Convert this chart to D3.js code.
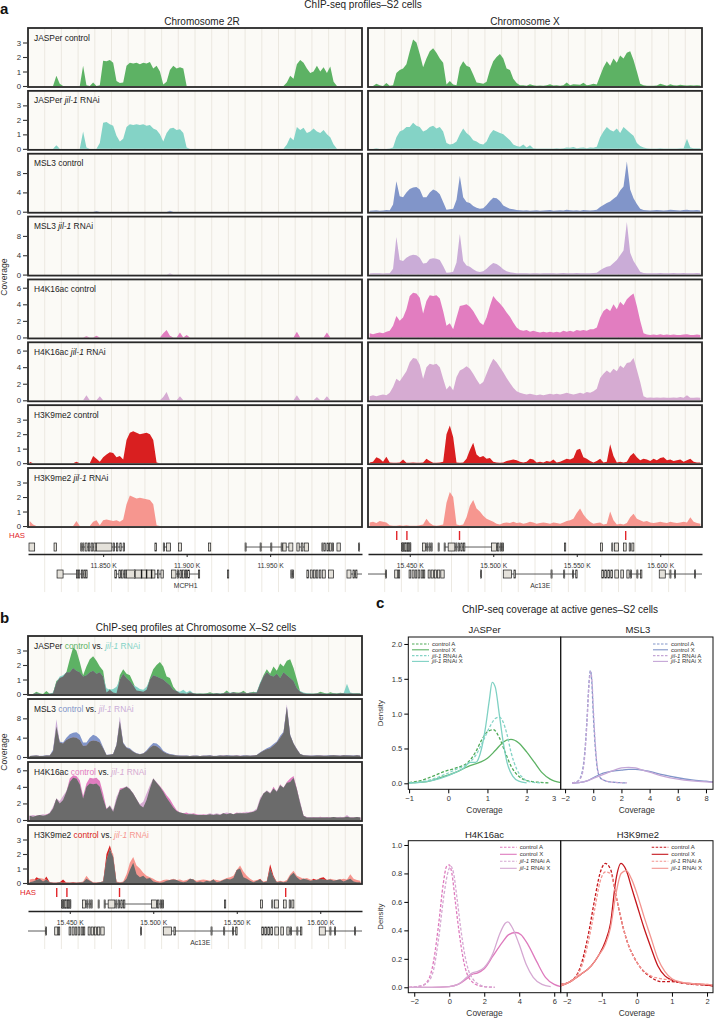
<!DOCTYPE html>
<html><head><meta charset="utf-8">
<script src="https://cdn.jsdelivr.net/npm/d3@7"></script>
<style>body{margin:0;background:#fff}svg{display:block}text{font-family:"Liberation Sans",Arial,Helvetica,sans-serif}</style>
</head><body><script>
// ---------------- DATA: coverage profiles (100 bins per region) ----------------
const jasperCtrl2R=[0,0,0,0,0,0,0,0,0.7,0.15, 0,0,0,0,0,0,1.4,0.05,0,0.25, 0,0.05,1.75,1.7,1.8,1.6,0.35,0.2,0.25,1.4, 1.6,1.55,1.6,1.5,1.6,1.55,1.65,1.2,1.4,1.0, 0.1,0.3,1.1,1.4,1.2,1.3,1.2,0,0,0, 0,0,0,0,0,0,0,0,0,0, 0,0,0,0,0,0,0,0,0,0, 0,0,0,0,0,0,0,0.25,0.7,0.5, 1.5,1.8,1.6,1.2,0.9,1.0,1.4,1.0,1.3,0.9, 1.35,0.3,0,0,0,0,0,0,0,0];
const jasperRnai2R=[0,0,0,0,0,0,0,0,0.25,0, 0,0,0,0,0,0,1.2,0.1,0,0, 0,0.4,1.8,1.85,1.7,1.6,0.9,0.5,0.7,1.5, 1.7,1.65,1.7,1.65,1.7,1.6,1.65,1.4,1.3,1.0, 0.5,1.1,1.4,1.45,1.3,1.35,1.1,0.1,0,0, 0,0,0,0,0,0,0,0,0,0, 0,0,0,0,0,0,0,0,0,0, 0,0,0,0,0,0,0,0.3,0.8,0.6, 1.5,1.3,1.45,1.1,1.2,1.4,1.2,1.1,1.3,1.0, 0.8,0.3,0,0,0,0,0,0,0,0];
const msl3Ctrl2R=[0,0,0,0,0,0,0,0,0,0, 0,0,0,0,0,0,0,0,0,0, 0.15,0,0,0,0,0,0,0,0,0, 0,0,0,0,0,0,0,0,0,0, 0,0,0.2,0,0,0,0,0,0,0, 0,0,0,0,0,0,0,0,0,0, 0,0,0,0,0,0,0,0,0,0, 0,0,0,0,0,0,0,0,0,0, 0,0,0,0,0,0,0,0,0,0, 0,0,0,0,0,0,0,0,0,0];
const msl3Rnai2R=[0,0,0,0,0,0,0,0,0,0, 0,0,0,0,0,0,0,0,0,0, 0,0,0,0,0,0,0,0,0,0, 0,0,0,0,0,0,0,0,0,0, 0,0,0.2,0,0,0,0,0,0,0, 0,0,0,0,0,0,0,0,0,0, 0,0,0,0,0,0,0,0,0,0, 0,0,0,0,0,0,0,0,0,0, 0,0,0,0,0,0,0,0,0,0, 0,0,0,0,0,0,0,0,0,0];
const h4Ctrl2R=[0,0,0,0,0,0,0,0,0,0, 0,0,0,0,0,0,0,0.15,0,0, 0.2,0,0,0,0,0,0,0,0,0, 0,0,0,0,0,0,0,0,0,0, 0.5,0.9,0.2,0,0,0.6,0,0.3,0,0, 0,0,0,0,0,0,0,0,0,0, 0,0,0,0,0,0,0,0,0,0, 0,0,0,0,0,0,0,0,0,0, 0.7,0,0,0,0,0,0,0,0,0.6, 0,0,0,0,0,0,0,0,0,0];
const h4Rnai2R=[0,0,0,0,0,0,0,0,0,0, 0,0,0,0,0,0,0,0.6,0,0, 0,0.5,0,0,0,0,0,0,0,0, 0,0,0,0,0,0,0,0,0,0, 0.4,1.0,0,0,0,0.5,0,0,0,0, 0,0,0,0,0,0,0,0,0,0, 0,0,0,0,0,0,0,0,0,0, 0,0,0,0,0,0,0,0,0,0, 0.6,0,0,0,0,0,0.4,0,0,0.5, 0,0,0,0,0,0,0,0,0,0];
const h3Ctrl2R=[0.1,0,0,0,0,0,0,0,0,0, 0,0,0,0,0.1,0,0,0,0,0.5, 0.3,0.1,0.4,0.6,0.75,0.7,0.4,0.5,0.25,1.6, 2.1,2.2,2.1,2.0,2.05,2.1,2.0,1.6,0.05,0, 0,0,0,0,0,0,0,0,0,0, 0,0,0,0,0,0,0,0,0,0, 0,0,0,0,0,0,0,0,0,0, 0,0,0,0,0,0,0,0,0,0, 0,0,0,0,0,0,0,0,0,0, 0,0,0,0,0,0,0,0,0,0];
const h3Rnai2R=[0.35,0.1,0,0,0,0,0,0,0,0, 0,0,0,0,0.35,0,0,0,0,0.3, 0.4,0.05,0.4,0.45,0.4,0.35,0.4,0.3,0.45,1.5, 2.1,2.0,1.9,1.95,1.9,1.85,1.8,1.5,0.05,0, 0,0,0,0,0,0,0,0,0,0, 0,0,0,0,0,0,0,0,0,0, 0,0,0,0,0,0,0,0,0,0, 0,0,0,0,0,0,0,0,0,0, 0,0,0,0,0,0,0,0,0,0, 0,0,0,0,0,0,0,0,0,0];

const jasperCtrlX=[0,0,0.15,0.05,0,0.2,0.02,0.05,0.9,1.1, 1.2,1.5,2.4,3.2,3.0,2.2,1.3,1.9,2.4,2.6, 2.3,1.9,1.6,0.1,0.35,0.1,0.05,1.3,1.7,1.4, 1.3,0.8,0.25,0.2,0.15,0.3,1.1,1.7,2.0,2.2, 1.9,1.2,1.1,0.5,0.2,0.05,0.05,0.02,0.12,0.05, 0.02,0.03,0.02,0.05,0.12,0.03,0.05,0.02,0.06,0.25, 0.05,0.12,0.1,0.08,0.22,0.05,0.08,0.15,0.1,0.7, 1.3,1.7,1.4,1.9,1.6,2.1,1.9,2.3,2.4,1.8, 1.0,0.15,0.05,0.02,0.02,0.02,0.03,0.15,0.08,0.02, 0.12,0.05,0.03,0.08,0.05,0.03,0.06,0.04,0.05,0.03];
const jasperRnaiX=[0,0,0.05,0,0,0,0.02,0.1,0.8,1.2, 1.3,1.5,1.5,1.8,1.6,1.5,1.2,1.3,1.5,1.6, 1.4,1.5,1.2,0.4,0.3,0.35,0.5,1.0,1.4,1.1, 0.9,0.6,0.5,0.35,0.3,0.5,1.0,1.3,1.2,1.1, 1.0,0.8,0.6,0.3,0.2,0.15,0.3,0.1,0.25,0.05, 0.02,0.02,0.02,0.02,0.03,0.02,0.05,0.03,0.05,0.1, 0.08,0.12,0.05,0.08,0.1,0.05,0.1,0.08,0.15,0.8, 1.2,1.5,1.3,1.2,1.4,1.1,1.5,1.3,1.1,0.9, 0.4,0.2,0.1,0.05,0.03,0.02,0.03,0.05,0.02,0.03, 0.02,0.03,0.02,0.05,0.05,0.7,0.1,0.05,0.04,0.05];
const msl3CtrlX=[0.2,0.25,0.3,0.2,0.25,0.35,0.3,1.5,6.3,3.2, 3.0,4.0,4.7,5.0,5.1,4.6,3.0,3.0,4.0,4.6, 4.3,3.6,2.0,0.4,0.5,0.6,2.5,7.4,3.0,2.0, 1.8,1.2,0.8,0.6,0.7,1.4,2.2,2.9,2.8,2.2, 1.3,0.9,0.6,0.5,0.35,0.3,0.25,0.3,0.2,0.25, 0.3,0.2,0.25,0.3,0.35,0.2,0.25,0.3,0.25,0.4, 0.3,0.25,0.3,0.2,0.35,0.3,0.25,0.3,0.4,1.0, 1.4,1.8,2.1,2.7,3.2,4.4,5.2,10.4,4.6,2.8, 1.6,0.6,0.35,0.3,0.25,0.3,0.35,0.3,0.25,0.3, 0.4,0.35,0.3,0.25,0.35,0.4,0.3,0.3,0.35,0.25];
const msl3RnaiX=[0.2,0.25,0.3,0.25,0.2,0.3,0.3,1.2,7.8,3.0, 2.8,3.5,3.9,4.1,4.0,3.5,2.3,2.4,3.2,3.4, 3.3,3.0,1.8,0.4,0.45,0.6,2.5,8.4,2.8,1.9, 1.6,1.1,0.7,0.55,0.7,1.2,1.9,2.4,2.2,1.7, 1.1,0.7,0.5,0.4,0.3,0.25,0.3,0.25,0.2,0.3, 0.25,0.2,0.3,0.25,0.3,0.25,0.2,0.3,0.35,0.3, 0.25,0.3,0.35,0.3,0.25,0.3,0.25,0.35,0.4,0.9, 1.3,1.6,1.8,2.4,3.0,4.0,5.0,10.9,4.5,2.8, 1.7,0.6,0.35,0.3,0.3,0.25,0.3,0.35,0.3,0.25, 0.3,0.35,0.3,0.3,0.35,0.3,0.3,0.25,0.35,0.3];
const h4CtrlX=[0.5,0.4,0.5,0.6,0.5,0.7,0.8,1.4,2.6,2.0, 2.4,3.4,5.0,5.4,5.3,4.8,2.9,4.4,5.1,5.0, 5.1,4.7,3.2,1.4,1.7,1.0,2.4,3.8,3.9,4.0, 3.7,3.2,2.5,1.8,1.5,2.4,3.8,5.0,4.5,4.1, 3.6,3.0,2.5,1.8,1.2,0.9,0.8,0.9,0.7,0.8, 0.7,0.6,0.7,0.6,0.7,0.6,0.7,0.6,0.8,0.7, 0.8,0.7,0.9,0.8,0.9,0.8,1.0,1.0,1.2,2.4, 3.2,3.5,3.2,4.0,3.4,4.3,3.9,4.6,5.0,5.3, 3.8,2.0,0.5,0.35,0.3,0.35,0.3,0.4,0.3,0.35, 0.3,0.35,0.3,0.3,0.35,0.4,0.3,0.3,0.35,0.3];
const h4RnaiX=[0.5,0.6,0.5,0.6,0.7,0.6,0.9,1.6,2.6,2.3, 2.9,3.5,4.6,5.1,5.0,4.3,2.6,4.0,4.4,4.3, 4.4,4.0,2.6,1.3,1.8,1.2,2.8,3.6,3.8,4.1, 3.8,3.2,2.5,1.9,2.2,3.2,4.2,5.0,4.6,4.0, 3.4,2.7,2.1,1.5,1.1,0.9,0.8,0.7,0.8,0.7, 0.6,0.7,0.6,0.7,0.8,0.7,0.8,0.7,0.8,0.9, 0.8,0.7,0.8,0.9,0.8,1.0,0.9,1.1,1.4,2.7, 3.2,3.6,3.3,3.8,3.5,4.2,3.9,4.5,4.6,5.1, 3.7,2.2,0.5,0.3,0.35,0.3,0.35,0.3,0.35,0.3, 0.3,0.35,0.3,0.4,0.3,0.6,0.3,0.3,0.35,0.3];
const h3CtrlX=[0.05,0.1,0.4,0.3,0.1,0.45,0.05,0.02,0.02,0.05, 0.25,0.02,0.02,0.05,0.02,0.03,0.05,0.3,0.15,0.02, 0.02,0.05,0.1,2.0,2.6,1.8,0.05,0.02,0.05,0.3, 0.9,1.4,0.6,0.4,0.5,0.3,0.35,0.1,0.05,0.02, 0.05,0.15,0.2,0.25,0.2,0.1,0.05,0.1,0.3,0.25, 0.05,0.1,0.05,0.15,0.1,0.25,0.05,0.1,0.2,0.3, 0.25,0.35,0.9,1.0,0.4,0.3,0.15,0.05,0.15,0.3, 0.05,0.1,1.3,0.5,0.05,0.1,0.05,0.1,0.5,0.7, 0.4,0.2,0.3,0.25,0.15,0.3,0.2,0.35,0.4,0.2, 0.25,0.15,0.2,0.25,0.1,0.2,0.3,0.1,0.05,0.05];
const h3RnaiX=[0.25,0.3,0.2,0.35,0.3,0.25,0.05,0.02,0.02,0.05, 0.02,0.05,0.02,0.02,0.02,0.05,0.1,0.5,0.2,0.05, 0.02,0.05,0.1,1.6,2.35,2.0,0.1,0.05,0.1,0.6, 1.4,1.8,1.2,1.0,0.7,0.5,0.4,0.3,0.15,0.1, 0.2,0.25,0.2,0.3,0.2,0.25,0.15,0.2,0.3,0.25, 0.15,0.2,0.25,0.2,0.15,0.25,0.2,0.15,0.25,0.35, 0.4,0.5,0.9,1.2,0.8,0.5,0.3,0.15,0.2,0.25, 0.1,0.15,1.0,0.4,0.1,0.15,0.1,0.2,0.6,0.85, 0.5,0.4,0.3,0.35,0.25,0.2,0.25,0.3,0.25,0.2, 0.3,0.25,0.2,0.25,0.3,0.25,0.6,0.3,0.2,0.15];

const marks=["JASPer","MSL3","H4K16ac","H3K9me2"];
const trackMax=[4,12,7,4];
const trackTicks=[[0,1,2,3],[0,4,8],[0,2,4,6],[0,1,2,3]];
const ctrlColors=["#5db264","#8195c9","#e27dc0","#d91f20"];
const rnaiColors=["#84d3c6","#caacd7","#d6abd2","#f6968f"];
const data2R=[[jasperCtrl2R,jasperRnai2R],[msl3Ctrl2R,msl3Rnai2R],[h4Ctrl2R,h4Rnai2R],[h3Ctrl2R,h3Rnai2R]];
const dataX=[[jasperCtrlX,jasperRnaiX],[msl3CtrlX,msl3RnaiX],[h4CtrlX,h4RnaiX],[h3CtrlX,h3RnaiX]];

// genomic regions (kb) and annotation
const region2R=[11805,12005], regionX=[15425,15625];
const axisTicks2R=[11850,11900,11950], axisTicksX=[15450,15500,15550,15600];
const hasSitesX=[15442.2,15448.3,15479.8,15579.3];
const genes2R=[
 {row:1,exons:[[11805.6,11809.0]]},
 {row:1,exons:[[11820.6,11822.0]]},
 {row:1,from:11836.6,to:11862.8,exons:[[11836.6,11837.2],[11837.8,11838.4],[11839.2,11840.4],[11841.2,11842.0],[11842.8,11843.8],[11844.4,11845.6],[11846.0,11855.2],[11856.0,11856.8],[11858.0,11858.8],[11860.0,11860.8],[11862.0,11862.8]]},
 {row:1,exons:[[11881,11882]]},
 {row:1,from:11886,to:11890.4,exons:[[11886,11886.8],[11888,11890.4]]},
 {row:1,exons:[[11895.2,11897]]},
 {row:1,exons:[[11913,11914.4]]},
 {row:1,from:11935,to:11963.6,exons:[[11935,11935.6],[11944,11944.6],[11950.4,11951],[11956.6,11957.2],[11957.6,11959.6],[11961.2,11963.6]]},
 {row:1,from:11966,to:11973,exons:[[11966,11967.4],[11968.6,11969.6],[11970.4,11973]]},
 {row:1,exons:[[11981,11981.6],[11982.2,11983],[11984,11985],[11985.6,11986.6],[11987.2,11988]]},
 {row:1,exons:[[11990,11992]]},
 {row:1,exons:[[12003,12003.6]]},
 {row:2,from:11822.4,to:11840.4,exons:[[11822.4,11826],[11834,11834.8],[11835.2,11836],[11837,11837.8],[11838.4,11839.2],[11839.6,11840.4]]},
 {row:2,from:11857,to:11886,exons:[[11857,11858],[11859.4,11860.4],[11861,11862],[11862.8,11863.6],[11864,11881],[11868.8,11869.2],[11872.8,11873.2],[11875.8,11876.2],[11878.8,11879.2],[11882.6,11883.4],[11884.6,11886]]},
 {row:2,from:11891,to:11907.8,name:"MCPH1",exons:[[11891,11893.6],[11894.6,11895.2],[11896,11897],[11897.6,11898.6],[11899.2,11900],[11900.6,11901.6],[11907,11907.8]]},
 {row:2,exons:[[11924.4,11925.2]]},
 {row:2,from:11962.4,to:11964,exons:[[11962.4,11963],[11963.4,11964]]},
 {row:2,exons:[[11972,11973],[11974,11975.2],[11976,11977],[11977.6,11978.6],[11979.4,11980.4],[11981.2,11983]]},
 {row:2,exons:[[11985,11988]]},
 {row:2,from:11996,to:12010,exons:[[11996,11998.4],[11999.6,12000.4],[12001.2,12002]]}
];
const genesX=[
 {row:1,exons:[[15445,15450.6],[15445.6,15446.2],[15447,15447.8],[15448.6,15449.4],[15450,15450.6]]},
 {row:1,from:15457.6,to:15463.4,exons:[[15457.6,15459.4],[15460.2,15460.8],[15461.6,15462.2],[15462.8,15463.4]]},
 {row:1,exons:[[15467,15467.6]]},
 {row:1,from:15470.6,to:15506.2,exons:[[15470.6,15471.2],[15473,15477],[15477.6,15478.2],[15479,15479.8],[15480.6,15481.4],[15482.2,15483],[15499,15502],[15502.6,15503.4],[15504.2,15505],[15505.4,15506.2]]},
 {row:1,exons:[[15542.6,15543.4]]},
 {row:1,exons:[[15564.2,15565.4]]},
 {row:1,exons:[[15571,15571.6],[15572.6,15575]]},
 {row:1,exons:[[15578,15579.6]]},
 {row:1,exons:[[15581.4,15582.2],[15583,15584.2]]},
 {row:2,from:15420,to:15436,exons:[[15435.4,15436]]},
 {row:2,exons:[[15441,15442.8],[15443.2,15444]]},
 {row:2,exons:[[15449.6,15450.6],[15451.4,15452.6],[15453.2,15454.2],[15455,15456],[15456.8,15457.8],[15458.2,15459]]},
 {row:2,exons:[[15461,15462.2],[15462.8,15464.2],[15464.8,15466],[15466.6,15468],[15468.6,15470.6]]},
 {row:2,exons:[[15492.4,15493]]},
 {row:2,from:15506,to:15550.2,name:"Ac13E",exons:[[15506,15511],[15512.4,15513.2],[15534.6,15535.2],[15542.2,15542.8],[15547.4,15548],[15549.4,15550.2]]},
 {row:2,exons:[[15565,15566],[15566.8,15567.8],[15568.6,15569.6],[15570.4,15571.4],[15572.8,15575]]},
 {row:2,exons:[[15576.4,15578]]},
 {row:2,from:15580,to:15589,exons:[[15580,15581.4],[15582.2,15582.8],[15586,15586.6],[15588.2,15589]]},
 {row:2,from:15599.4,to:15630,exons:[[15599.4,15603],[15605.8,15606.4],[15608.6,15609.2],[15620.6,15621.2]]}
];

// ---------------- DATA: density curves (panel c) ----------------
const densJasper=[
 {lab:"control A",dash:true,color:"#4fa957",x:[-1,-0.7,-0.4,-0.1,0.2,0.5,0.7,0.85,1.0,1.15,1.3,1.45,1.6,1.8,2.0,2.3,2.6],y:[0.01,0.04,0.1,0.17,0.22,0.3,0.45,0.62,0.74,0.77,0.66,0.45,0.25,0.1,0.04,0.015,0.005]},
 {lab:"control X",dash:false,color:"#5db264",x:[-1,-0.6,-0.2,0.2,0.5,0.8,1.0,1.2,1.4,1.6,1.8,2.0,2.2,2.4,2.6,2.87],y:[0.005,0.02,0.08,0.16,0.24,0.3,0.36,0.47,0.59,0.63,0.58,0.45,0.3,0.15,0.06,0.01]},
 {lab:"RNAi A",dash:true,color:"#84d3c6",x:[-1,-0.6,-0.2,0.2,0.5,0.7,0.9,1.05,1.2,1.3,1.4,1.5,1.6,1.75,1.9,2.1,2.4],y:[0.005,0.03,0.1,0.2,0.28,0.4,0.62,0.8,0.93,0.95,0.88,0.7,0.45,0.2,0.08,0.02,0.005]},
 {lab:"RNAi X",dash:false,color:"#7fd1c3",x:[-1,-0.6,-0.2,0.2,0.4,0.55,0.7,0.85,0.95,1.05,1.12,1.2,1.3,1.4,1.5,1.65,1.8,2.0],y:[0.003,0.02,0.07,0.16,0.22,0.3,0.3,0.5,0.8,1.2,1.45,1.38,1.0,0.6,0.3,0.1,0.03,0.005]}
];
const densMsl3=[
 {lab:"control A",dash:true,color:"#8195c9",x:[-1.5,-1.1,-0.8,-0.6,-0.45,-0.3,-0.2,-0.1,0.0,0.15,0.3,0.5,0.8,1.2,1.8,2.4],y:[0.005,0.03,0.15,0.45,0.9,1.45,1.62,1.45,1.0,0.5,0.2,0.08,0.04,0.02,0.01,0.005]},
 {lab:"control X",dash:false,color:"#8195c9",x:[-1.5,-1,-0.5,0,0.5,1,1.5,2,2.5,3,3.5,4,5,6,7,8,8.5],y:[0.0,0.01,0.03,0.08,0.13,0.16,0.18,0.19,0.2,0.2,0.19,0.17,0.12,0.08,0.05,0.03,0.02]},
 {lab:"RNAi A",dash:true,color:"#c4a6d6",x:[-1.5,-1.1,-0.8,-0.6,-0.45,-0.3,-0.2,-0.1,0.0,0.15,0.3,0.5,0.8,1.2,1.8,2.4],y:[0.005,0.03,0.12,0.4,0.85,1.4,1.6,1.5,1.1,0.55,0.22,0.08,0.04,0.02,0.01,0.005]},
 {lab:"RNAi X",dash:false,color:"#c4a6d6",x:[-1.5,-1,-0.5,0,0.5,1,1.5,2,2.5,3,3.5,4,5,6,7,8,8.5],y:[0.0,0.01,0.03,0.07,0.11,0.15,0.19,0.22,0.23,0.22,0.19,0.16,0.1,0.06,0.035,0.02,0.015]}
];
const densH4=[
 {lab:"control A",dash:true,color:"#de7abd",x:[-2.3,-1.6,-1.2,-0.9,-0.6,-0.35,-0.15,0.0,0.15,0.35,0.55,0.8,1.0,1.3,1.6,2.0,2.6],y:[0.0,0.01,0.05,0.18,0.45,0.72,0.85,0.86,0.8,0.6,0.4,0.2,0.1,0.04,0.015,0.005,0.0]},
 {lab:"control X",dash:false,color:"#de7abd",x:[-2.3,-1,0,0.5,1.0,1.3,1.6,2.0,2.5,3.0,3.4,3.8,4.1,4.5,5.0,5.5,6.0,6.37],y:[0,0,0.005,0.02,0.06,0.09,0.1,0.13,0.22,0.31,0.37,0.385,0.37,0.3,0.18,0.07,0.02,0.005]},
 {lab:"RNAi A",dash:true,color:"#d5a8d2",x:[-2.3,-1.6,-1.2,-0.9,-0.6,-0.3,-0.05,0.1,0.25,0.45,0.65,0.9,1.1,1.4,1.7,2.0,2.6],y:[0,0.01,0.04,0.12,0.35,0.65,0.82,0.85,0.8,0.62,0.42,0.22,0.12,0.05,0.02,0.005,0]},
 {lab:"RNAi X",dash:false,color:"#d5a8d2",x:[-2.3,-1,0,0.5,1.0,1.3,1.6,2.0,2.5,2.9,3.2,3.35,3.6,4.0,4.4,4.8,5.3,5.8],y:[0,0,0.005,0.02,0.07,0.1,0.11,0.14,0.24,0.38,0.45,0.46,0.42,0.3,0.16,0.07,0.02,0.005]}
];
const densH3=[
 {lab:"control A",dash:true,color:"#c4161c",x:[-2.17,-1.9,-1.6,-1.4,-1.2,-1.05,-0.9,-0.75,-0.6,-0.45,-0.3,-0.1,0.1,0.4,0.7,1.0,1.3,1.6,2.0,2.17],y:[0.02,0.04,0.15,0.35,0.62,0.8,0.87,0.83,0.65,0.48,0.34,0.22,0.14,0.07,0.04,0.04,0.03,0.02,0.015,0.01]},
 {lab:"control X",dash:false,color:"#c4161c",x:[-2.17,-1.9,-1.6,-1.3,-1.1,-0.9,-0.75,-0.6,-0.45,-0.3,-0.15,0,0.2,0.4,0.6,0.8,1.0,1.3,1.6,2.0,2.17],y:[0.01,0.04,0.09,0.15,0.22,0.32,0.45,0.75,0.87,0.82,0.7,0.58,0.42,0.28,0.15,0.08,0.05,0.03,0.025,0.015,0.01]},
 {lab:"RNAi A",dash:true,color:"#f39590",x:[-2.17,-1.9,-1.6,-1.4,-1.2,-1.05,-0.9,-0.75,-0.6,-0.45,-0.3,-0.1,0.1,0.4,0.7,1.0,1.3,1.6,2.0,2.17],y:[0.02,0.04,0.13,0.3,0.55,0.74,0.81,0.8,0.65,0.48,0.34,0.22,0.14,0.08,0.06,0.05,0.03,0.025,0.02,0.015]},
 {lab:"RNAi X",dash:false,color:"#f39590",x:[-2.17,-1.9,-1.6,-1.3,-1.1,-0.9,-0.75,-0.6,-0.45,-0.3,-0.15,0,0.2,0.4,0.6,0.8,1.0,1.3,1.6,2.0,2.17],y:[0.01,0.04,0.09,0.15,0.22,0.3,0.42,0.65,0.8,0.82,0.76,0.66,0.5,0.35,0.2,0.11,0.06,0.035,0.025,0.02,0.015]}
];
const legendLabels=[[{t:"control A"}],[{t:"control X"}],[{t:"jil-1",i:1},{t:" RNAi A"}],[{t:"jil-1",i:1},{t:" RNAi X"}]];

// ---------------- DRAWING ----------------
const W=714,H=1019,NB=100;
const BG="#fbfaf6",GRID="#e7e3db",FRAME="#282828",HASC="#e2262b";
const FAM="Liberation Sans,Arial,sans-serif";
const fmtInt=d3.format("d"), fmt1=d3.format(".1f");
const svg=d3.select("body").append("svg").attr("width",W).attr("height",H);
let clipN=0;
function clip(x,y,w,h){const id="c"+(clipN++);svg.append("clipPath").attr("id",id).append("rect").attr("x",x).attr("y",y).attr("width",w).attr("height",h);return `url(#${id})`;}
function txt(g,x,y,s,size,opts={}){const t=g.append("text").attr("x",x).attr("y",y).attr("font-size",size).attr("fill",opts.fill||"#222").attr("text-anchor",opts.anchor||"start");if(opts.weight)t.attr("font-weight",opts.weight);if(opts.rot)t.attr("transform",`rotate(-90,${x},${y})`);if(typeof s==="string")t.text(s);else s.forEach(p=>{const ts=t.append("tspan").text(p.t);if(p.i)ts.attr("font-style","italic");if(p.c)ts.attr("fill",p.c);});return t;}

function drawTrack(o){
  const g=svg.append("g");
  const w=o.x1-o.x0;
  g.append("rect").attr("x",o.x0).attr("y",o.yTop).attr("width",w).attr("height",o.h).attr("fill",BG);
  const gx=d3.scaleLinear().domain([0,20]).range([o.x0,o.x1]);
  g.selectAll(null).data(d3.range(1,20)).join("line").attr("x1",d=>gx(d)).attr("x2",d=>gx(d)).attr("y1",o.yTop).attr("y2",o.yTop+o.h).attr("stroke",GRID).attr("stroke-width",0.8);
  const xs=d3.scaleLinear().domain([0,NB]).range([o.x0,o.x1]);
  const ys=d3.scaleLinear().domain([0,o.ymax]).range([o.yTop+o.h-1,o.yTop]);
  const area=d3.area().x((d,i)=>xs(i+0.5)).y0(ys(0)).y1(d=>ys(d));
  const cp=clip(o.x0,o.yTop,w,o.h);
  o.layers.forEach(L=>g.append("path").attr("clip-path",cp).attr("d",area(L.values)).attr("fill",L.color));
  g.append("rect").attr("x",o.x0).attr("y",o.yTop).attr("width",w).attr("height",o.h).attr("fill","none").attr("stroke",FRAME).attr("stroke-width",1.8);
  if(o.axis){
    const ag=g.append("g").attr("transform",`translate(${o.x0-1},0)`).call(d3.axisLeft(ys).tickValues(o.ticks).tickSize(4).tickPadding(2).tickSizeOuter(0).tickFormat(fmtInt));
    ag.select(".domain").remove();
    ag.selectAll("line").attr("stroke","#333").attr("stroke-width",1.1);
    ag.selectAll("text").attr("font-size",7.8).attr("fill","#333").attr("font-family",FAM);
  }
  if(o.label) txt(g,o.x0+6,o.yTop+12.5,o.label,8.4);
}

function geneArea(x0,x1,yb,region,genes,ticks,has,hasLabelX){
  const g=svg.append("g");
  const xs=d3.scaleLinear().domain(region).range([x0,x1]);
  const gx=d3.scaleLinear().domain([0,20]).range([x0,x1]);
  g.selectAll(null).data(d3.range(1,20)).join("line").attr("x1",d=>gx(d)).attr("x2",d=>gx(d)).attr("y1",yb+1).attr("y2",yb+65).attr("stroke",GRID).attr("stroke-width",0.8);
  const cp=clip(x0,yb,x1-x0,70);
  const gg=g.append("g").attr("clip-path",cp);
  const rowY={1:yb+20,2:yb+47};
  genes.forEach(gn=>{
    const cy=rowY[gn.row];
    if(gn.from!=null) gg.append("line").attr("x1",xs(gn.from)).attr("x2",xs(gn.to)).attr("y1",cy).attr("y2",cy).attr("stroke","#333").attr("stroke-width",0.8);
    gn.exons.forEach(e=>gg.append("rect").attr("x",xs(e[0])).attr("y",cy-4).attr("width",Math.max(0.5,xs(e[1])-xs(e[0]))).attr("height",8).attr("fill","#e4e1da").attr("stroke","#1a1a1a").attr("stroke-width",0.7));
    if(gn.name) txt(g,xs((gn.from+gn.to)/2),cy+14,gn.name,6.8,{anchor:"middle",fill:"#333"});
  });
  const ag=g.append("g").attr("transform",`translate(0,${yb+27})`).call(d3.axisBottom(xs).tickValues(ticks).tickSize(3).tickPadding(6).tickSizeOuter(0).tickFormat(d=>(d/1000).toFixed(3)+" K"));
  ag.select(".domain").attr("stroke","#222").attr("stroke-width",1.3);
  ag.selectAll("line").attr("stroke","#222");
  ag.selectAll("text").attr("font-size",6.7).attr("fill","#333").attr("font-family",FAM);
  if(has){
    g.selectAll(null).data(has).join("line").attr("x1",d=>xs(d)).attr("x2",d=>xs(d)).attr("y1",yb+4).attr("y2",yb+13).attr("stroke",HASC).attr("stroke-width",1.4);
  }
  if(hasLabelX!=null) txt(g,hasLabelX,yb+10.5,"HAS",7.8,{fill:HASC});
}

// ---- panel a ----
txt(svg,0,14,"a",15,{weight:"bold",fill:"#111"});
txt(svg,363,8,"ChIP-seq profiles–S2 cells",10,{anchor:"middle"});
txt(svg,202,25,"Chromosome 2R",10,{anchor:"middle"});
txt(svg,525,25,"Chromosome X",10,{anchor:"middle"});
const aTop=28,aPitch=62.86,aH=59;
marks.forEach((m,mi)=>{
  [0,1].forEach(c=>{
    const r=mi*2+c, yTop=aTop+r*aPitch;
    const label=c===0?[{t:m+" control"}]:[{t:m+" "},{t:"jil-1",i:1},{t:" RNAi"}];
    const col=c===0?ctrlColors[mi]:rnaiColors[mi];
    drawTrack({x0:28,x1:362,yTop,h:aH,ymax:trackMax[mi],ticks:trackTicks[mi],layers:[{values:data2R[mi][c],color:col}],label,axis:true});
    drawTrack({x0:368,x1:702,yTop,h:aH,ymax:trackMax[mi],ticks:trackTicks[mi],layers:[{values:dataX[mi][c],color:col}],label:null,axis:false});
  });
});
txt(svg,7,277,"Coverage",8.6,{anchor:"middle",rot:true,fill:"#333"});
const aGB=aTop+7*aPitch+aH;
geneArea(28,362,aGB,region2R,genes2R,axisTicks2R,null,9);
geneArea(368,702,aGB,regionX,genesX,axisTicksX,hasSitesX,null);

// ---- panel b ----
txt(svg,0,623,"b",15,{weight:"bold",fill:"#111"});
txt(svg,196,631,"ChIP-seq profiles at Chromosome X–S2 cells",10,{anchor:"middle"});
const bTop=636,bPitch=63;
marks.forEach((m,mi)=>{
  const yTop=bTop+mi*bPitch;
  const ctrl=dataX[mi][0],rnai=dataX[mi][1];
  const both=ctrl.map((v,i)=>Math.min(v,rnai[i]));
  const label=[{t:m+" "},{t:"control",c:ctrlColors[mi]},{t:" vs. "},{t:"jil-1",i:1,c:rnaiColors[mi]},{t:" RNAi",c:rnaiColors[mi]}];
  drawTrack({x0:28,x1:362,yTop,h:aH,ymax:trackMax[mi],ticks:trackTicks[mi],layers:[{values:ctrl,color:ctrlColors[mi]},{values:rnai,color:rnaiColors[mi]},{values:both,color:"#6b6b6b"}],label,axis:true});
});
txt(svg,7,752,"Coverage",8.6,{anchor:"middle",rot:true,fill:"#333"});
geneArea(28,362,bTop+3*bPitch+aH,regionX,genesX,axisTicksX,hasSitesX,20);

// ---- panel c ----
txt(svg,376,608,"c",15,{weight:"bold",fill:"#111"});
txt(svg,560,613,"ChIP-seq coverage at active genes–S2 cells",10,{anchor:"middle"});
function densPanel(o){
  const g=svg.append("g");
  const xs=d3.scaleLinear().domain(o.xDom).range([o.x0,o.x1]);
  const ys=d3.scaleLinear().domain(o.yDom).range([o.yBot,o.yTop]);
  const cp=clip(o.x0,o.yTop,o.x1-o.x0,o.yBot-o.yTop);
  const line=d3.line().x(d=>xs(d[0])).y(d=>ys(d[1])).curve(d3.curveMonotoneX);
  o.curves.forEach(c=>g.append("path").attr("clip-path",cp).attr("d",line(d3.zip(c.x,c.y))).attr("fill","none").attr("stroke",c.color).attr("stroke-width",1.3).attr("stroke-dasharray",c.dash?"3,1.8":null));
  g.append("rect").attr("x",o.x0).attr("y",o.yTop).attr("width",o.x1-o.x0).attr("height",o.yBot-o.yTop).attr("fill","none").attr("stroke","#111").attr("stroke-width",1);
  const xa=g.append("g").attr("transform",`translate(0,${o.yBot})`).call(d3.axisBottom(xs).tickValues(o.xTicks).tickSize(4).tickPadding(2).tickSizeOuter(0).tickFormat(fmtInt));
  xa.select(".domain").remove();
  xa.selectAll("text").attr("font-size",7.5).attr("fill","#333").attr("font-family",FAM);
  if(o.extraTick){txt(g,o.extraTick.x,o.yBot+11.3,o.extraTick.t,7.5,{anchor:"middle",fill:"#333"});}
  if(o.yTicks){
    const ya=g.append("g").attr("transform",`translate(${o.x0},0)`).call(d3.axisLeft(ys).tickValues(o.yTicks).tickSize(4).tickPadding(2).tickSizeOuter(0).tickFormat(fmt1));
    ya.select(".domain").remove();
    ya.selectAll("text").attr("font-size",7.5).attr("fill","#333").attr("font-family",FAM);
    txt(g,383.5,(o.yTop+o.yBot)/2,"Density",7.8,{anchor:"middle",rot:true,fill:"#333"});
  }
  txt(g,(o.x0+o.x1)/2+(o.titleDx||0),o.titleY,o.title,9.5,{anchor:"middle"});
  txt(g,(o.x0+o.x1)/2,o.yBot+23.5,"Coverage",8.4,{anchor:"middle",fill:"#333"});
  o.curves.forEach((c,i)=>{
    const ly=o.legY+i*o.legDy;
    g.append("line").attr("x1",o.legX).attr("x2",o.legX+o.legW).attr("y1",ly).attr("y2",ly).attr("stroke",c.color).attr("stroke-width",1.1).attr("stroke-dasharray",c.dash?"2.5,1.5":null);
    txt(g,o.legX+o.legW+3,ly+2,legendLabels[i],6,{fill:"#333"});
  });
}
densPanel({x0:408.3,x1:560.7,yTop:637,yBot:789.3,xDom:[-1.02,2.87],yDom:[-0.086,2.1],xTicks:[-1,0,1,2],extraTick:{x:554,t:"3"},yTicks:[0,0.5,1,1.5,2],curves:densJasper,title:"JASPer",titleY:633,legX:412,legW:17,legY:644,legDy:5.8});
densPanel({x0:560.7,x1:713,yTop:637,yBot:789.3,xDom:[-2.31,8.5],yDom:[-0.086,2.1],xTicks:[-2,0,2,4,6,8],yTicks:null,curves:densMsl3,title:"MSL3",titleY:633,titleDx:1,legX:653,legW:15,legY:644,legDy:5.8});
densPanel({x0:408.3,x1:560.7,yTop:840.7,yBot:992.7,xDom:[-2.34,6.37],yDom:[-0.038,1.03],xTicks:[-2,0,2,4,6],yTicks:[0,0.2,0.4,0.6,0.8,1.0],curves:densH4,title:"H4K16ac",titleY:838,legX:500,legW:16.7,legY:847.3,legDy:7});
densPanel({x0:560.7,x1:713,yTop:840.7,yBot:992.7,xDom:[-2.17,2.17],yDom:[-0.038,1.03],xTicks:[-2,-1,0,1,2],yTicks:null,curves:densH3,title:"H3K9me2",titleY:838,titleDx:1,legX:651.7,legW:16.6,legY:847.3,legDy:7});
</script></body></html>
